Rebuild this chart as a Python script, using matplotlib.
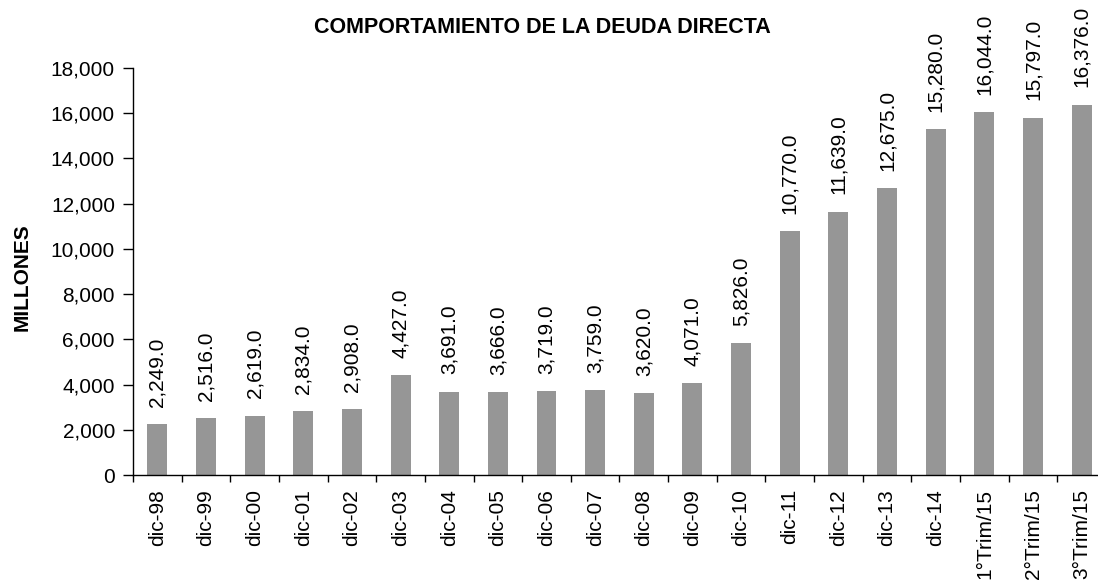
import numpy as np
import matplotlib
matplotlib.use("Agg")
from matplotlib import pyplot as plt
from matplotlib.ticker import FuncFormatter

plt.rcParams['font.family'] = ['Liberation Sans', 'DejaVu Sans']

categories = ['dic-98', 'dic-99', 'dic-00', 'dic-01', 'dic-02', 'dic-03', 'dic-04',
              'dic-05', 'dic-06', 'dic-07', 'dic-08', 'dic-09', 'dic-10', 'dic-11',
              'dic-12', 'dic-13', 'dic-14', '1°Trim/15', '2°Trim/15', '3°Trim/15']
deuda = [2249.0, 2516.0, 2619.0, 2834.0, 2908.0, 4427.0, 3691.0, 3666.0, 3719.0,
         3759.0, 3620.0, 4071.0, 5826.0, 10770.0, 11639.0, 12675.0, 15280.0,
         16044.0, 15797.0, 16376.0]

fig = plt.figure(figsize=(10.98, 5.81), dpi=100)
ax = fig.add_axes([0.1211, 0.1824, 0.8862, 0.7006])

x = np.arange(len(categories))
ax.bar(x, deuda, width=0.41, color='#969696', zorder=2)

for xi, v in zip(x, deuda):
    ax.annotate('{:,.1f}'.format(v), (xi, v), xytext=(0, 12.5), textcoords='offset points',
                rotation=90, ha='center', va='bottom', fontsize=15, annotation_clip=False)

ax.set_xlim(-0.5, len(categories) - 0.5)
ax.set_ylim(0, 18000)
ax.set_yticks(np.arange(0, 18001, 2000))
ax.yaxis.set_major_formatter(FuncFormatter(lambda v, p: '{:,.0f}'.format(v)))

# ticks between categories, labels at the centres
ax.set_xticks(np.arange(-0.5, len(categories), 1.0))
ax.set_xticklabels([])
ax.set_xticks(x, minor=True)
ax.set_xticklabels(categories, minor=True, rotation=90, fontsize=15)
ax.tick_params(axis='x', which='major', direction='out', length=5, width=1)
ax.tick_params(axis='x', which='minor', direction='in', length=3.5, width=1, pad=10)
ax.tick_params(axis='y', direction='out', length=7, width=1, labelsize=15, pad=6)

for s in ['top', 'right']:
    ax.spines[s].set_visible(False)
ax.spines['left'].set_linewidth(1)
ax.spines['bottom'].set_linewidth(1)

ax.set_ylabel('MILLONES', fontsize=15, fontweight='bold')
ax.yaxis.set_label_coords(-0.104, 0.485)
fig.text(0.494, 0.953, 'COMPORTAMIENTO DE LA DEUDA DIRECTA', ha='center', va='center',
         fontsize=15.5, fontweight='bold')

plt.savefig('out.png', dpi=100)
